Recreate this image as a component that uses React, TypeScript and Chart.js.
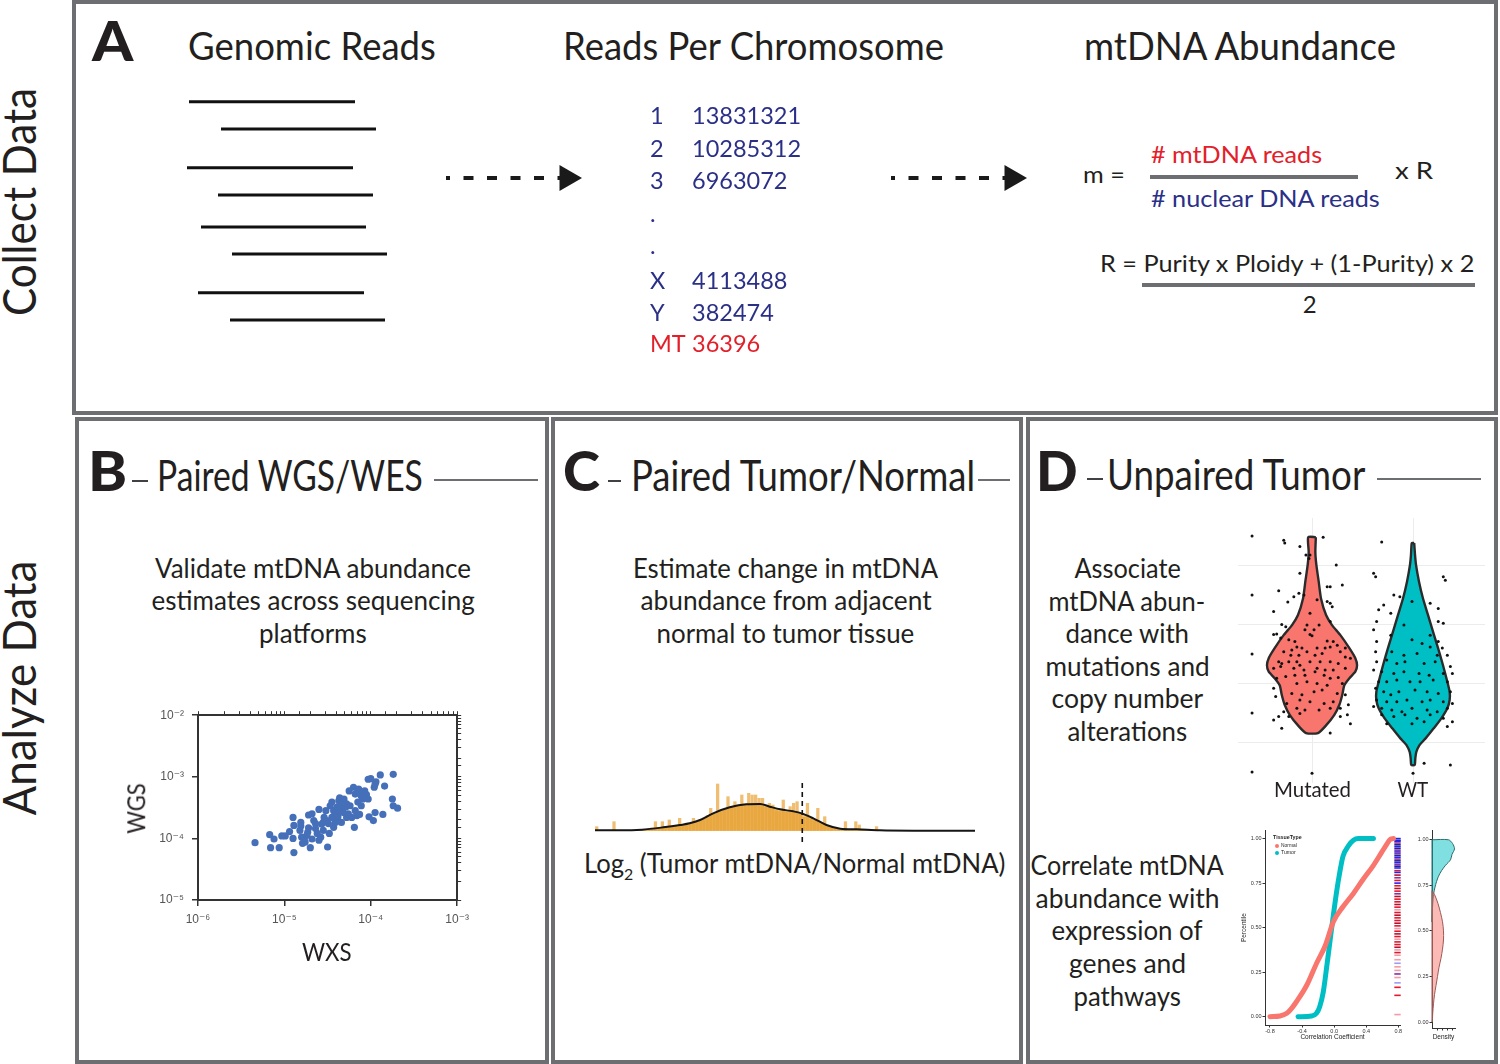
import React, { useEffect, useLayoutEffect, useRef } from 'react';
import { Chart, registerables } from 'chart.js';

Chart.register(...registerables);

// ================= DATA =================
// Panel A — schematic reads (arbitrary genome coordinates, bp) and flow arrows
const readStartBp = [90, 410, 70, 380, 210, 520, 180, 500];
const readEndBp = [1750, 1960, 1730, 1930, 1860, 2070, 1840, 2050];
const readDepth = [11.7, 39, 77.7, 105, 137, 164, 202.7, 230];
const flowStart = [2660, 7110];
const flowEnd = [3870, 8320];
const flowDepth = 88;

const chromosomes = ['1', '2', '3', '.', '.', 'X', 'Y', 'MT'];
const chromosomeReads = ['13831321', '10285312', '6963072', '', '', '4113488', '382474', '36396'];

// Panel B — paired WGS / WXS mtDNA abundance (log10 values)
const wxsLog10 = [
  -5.34, -5.17, -5.12, -5.16, -5.06, -5.03, -4.99, -4.94, -4.90, -4.89, -4.90, -4.81, -4.81, -4.82, -4.80, -4.79, -4.77,
  -4.73, -4.72, -4.70, -4.72, -4.68, -4.66, -4.64, -4.62, -4.60, -4.58, -4.60, -4.57, -4.55, -4.54, -4.52, -4.51, -4.50,
  -4.48, -4.47, -4.45, -4.43, -4.42, -4.40, -4.39, -4.37, -4.36, -4.34, -4.33, -4.32, -4.31, -4.29, -4.28, -4.26, -4.34,
  -4.38, -4.31, -4.24, -4.22, -4.20, -4.18, -4.19, -4.16, -4.18, -4.15, -4.14, -4.11, -4.10, -4.09, -4.07, -4.05, -4.03,
  -4.11, -4.15, -4.13, -4.02, -4.03, -3.97, -3.96, -3.95, -3.94, -3.89, -3.95, -3.84, -3.86, -3.74, -3.75, -3.74, -3.69,
  -4.76, -4.74, -4.68, -4.64, -4.55, -4.49, -4.45, -4.43, -4.41, -4.39, -4.37, -4.36, -4.30, -4.28, -4.25, -4.00, -4.89,
];
const wgsLog10 = [
  -4.07, -3.94, -4.01, -4.15, -4.15, -3.96, -3.96, -3.89, -4.00, -4.23, -3.66, -3.74, -3.80, -3.87, -3.98, -4.08, -4.01,
  -3.90, -3.83, -4.15, -3.62, -3.60, -3.71, -3.84, -3.92, -4.03, -3.98, -3.53, -3.77, -3.74, -3.66, -3.55, -3.71, -4.14,
  -3.92, -3.47, -3.41, -3.55, -3.63, -3.68, -3.49, -3.39, -3.34, -3.44, -3.52, -3.58, -3.36, -3.49, -3.66, -3.60, -3.74,
  -3.65, -3.43, -3.47, -3.66, -3.17, -3.28, -3.82, -3.63, -3.55, -3.23, -3.20, -3.31, -3.25, -3.36, -3.23, -3.29, -3.36,
  -3.47, -3.41, -3.61, -3.65, -3.04, -3.71, -3.17, -3.12, -3.08, -2.97, -3.58, -3.15, -3.61, -2.96, -3.36, -3.47, -3.51,
  -4.06, -3.95, -4.01, -3.76, -3.87, -3.76, -3.66, -3.82, -3.74, -3.58, -3.52, -3.47, -3.44, -3.44, -3.23, -3.03, -3.79,
];
const wxsTicks = [1e-6, 1e-5, 1e-4, 1e-3];
const wgsTicks = [1e-5, 1e-4, 1e-3, 1e-2];

// Panel C — log2(tumor/normal) histogram and density
const ratioBinStart = -3;
const ratioBinWidth = 0.05;
const ratioCounts = [
  1.2, 0, 0, 0, 0, 2.7, 0, 0, 0, 0, 0, 0, 0.2, 0.3, 0.5, 0.6, 0.8, 2.7, 1.0, 2.7, 1.2, 3.2, 1.5, 1.6, 3.7, 1.8, 1.9, 2.2,
  3.7, 2.8, 3.2, 3.8, 4.5, 6.7, 5.0, 14, 6.0, 6.5, 10.2, 7.0, 8.7, 7.5, 10.7, 8.0, 11.2, 10.7, 10.7, 9.7, 9.7, 7.0, 8.2,
  7.7, 6.0, 5.7, 9.2, 5.5, 7.2, 8.2, 8.7, 5.0, 4.0, 8.2, 3.5, 3.0, 6.7, 2.2, 4.2, 1.2, 0.8, 0.6, 0.5, 0.4, 2.7, 0.3, 0.3,
  2.7, 1.7, 0.3, 0.2, 0.2, 0, 1.2,
];
const densityX = [-3.0, -2.64, -2.32, -2.01, -1.77, -1.63, -1.48, -1.29, -1.05, -0.81, -0.61, -0.47, -0.32, -0.13, -0.01, 0.16, 0.35, 0.55, 0.79, 1.12, 1.61, 2.5];
const densityY = [0.1, 0.1, 0.3, 1.0, 1.7, 2.2, 3.2, 5.2, 7.0, 7.9, 8.0, 7.2, 6.4, 5.8, 5.2, 3.7, 1.7, 0.6, 0.4, 0.1, 0, 0];
const noChange = 0;

// Panel D — violins (Mutated vs WT)
const groups = ['Mutated', 'WT'];
const mutatedLevels = [3.98, 3.73, 3.51, 3.23, 2.94, 2.66, 2.49, 2.32, 2.10, 1.93, 1.81, 1.70, 1.59, 1.47, 1.31, 1.14, 0.97, 0.79, 0.66];
const mutatedHalfWidth = [0.038, 0.033, 0.043, 0.066, 0.089, 0.139, 0.198, 0.281, 0.370, 0.429, 0.446, 0.429, 0.370, 0.320, 0.300, 0.271, 0.221, 0.139, 0.059];
const wtLevels = [3.88, 3.68, 3.51, 3.23, 2.94, 2.66, 2.38, 2.10, 1.81, 1.53, 1.36, 1.22, 1.08, 0.91, 0.74, 0.57, 0.46, 0.34, 0.23, 0.12];
const wtHalfWidth = [0.012, 0.020, 0.030, 0.059, 0.099, 0.149, 0.198, 0.248, 0.297, 0.340, 0.363, 0.363, 0.340, 0.281, 0.205, 0.125, 0.066, 0.033, 0.023, 0.017];
const mutatedX = [
  0.72, 0.73, 0.88, 1.11, 0.94, 0.97, 0.98, 1.24, 0.88, 1.18, 1.15, 1.30, 0.67, 0.92, 0.87, 0.82, 0.76, 1.05, 1.15, 1.18,
  1.20, 0.62, 0.98, 0.70, 0.74, 1.18, 0.95, 1.07, 1.02, 0.93, 0.62, 0.65, 0.69, 1.00, 0.98, 0.77, 0.83, 1.15, 1.21, 1.25,
  1.33, 0.80, 0.85, 0.90, 1.05, 1.13, 1.18, 0.72, 0.79, 0.87, 0.95, 1.03, 1.10, 1.28, 1.33, 1.38, 0.67, 0.70, 0.77, 0.85,
  0.88, 0.98, 1.08, 1.18, 1.26, 0.62, 0.69, 0.82, 0.92, 1.05, 1.13, 1.21, 1.33, 0.65, 0.74, 0.83, 0.93, 1.03, 1.12, 1.18,
  1.26, 0.62, 0.85, 0.95, 1.05, 1.15, 1.30, 0.64, 0.80, 0.90, 1.02, 1.10, 1.25, 1.33, 0.75, 0.88, 0.98, 1.12, 1.21, 1.36,
  0.72, 0.85, 0.93, 1.07, 1.18, 1.28, 1.35, 0.62, 0.67, 0.77, 0.88, 1.28, 1.38, 0.70, 1.18,
];
const mutatedY = [
  3.93, 3.88, 3.82, 3.98, 3.68, 3.62, 3.68, 3.51, 3.37, 3.14, 3.14, 3.17, 3.07, 3.00, 3.03, 2.97, 2.88, 2.92, 2.89, 2.86,
  2.80, 2.72, 2.69, 2.50, 2.46, 2.55, 2.49, 2.49, 2.41, 2.41, 2.33, 2.34, 2.27, 2.31, 2.33, 2.24, 2.21, 2.22, 2.21, 2.15,
  2.10, 2.07, 2.12, 2.10, 2.10, 2.10, 2.12, 2.04, 1.98, 1.98, 2.04, 1.98, 2.01, 2.04, 1.95, 1.93, 1.87, 1.84, 1.87, 1.87,
  1.81, 1.87, 1.87, 1.87, 1.84, 1.76, 1.79, 1.76, 1.73, 1.76, 1.73, 1.73, 1.76, 1.59, 1.62, 1.64, 1.64, 1.70, 1.64, 1.59,
  1.60, 1.42, 1.50, 1.53, 1.50, 1.47, 1.50, 1.28, 1.33, 1.31, 1.36, 1.39, 1.33, 1.31, 1.16, 1.22, 1.19, 1.16, 1.19, 1.14,
  1.02, 1.08, 1.05, 1.05, 1.08, 1.08, 0.97, 0.88, 0.94, 0.94, 0.99, 0.94, 0.82, 0.74, 0.66,
];
const wtX = [
  1.69, 1.61, 1.63, 2.30, 2.32, 1.81, 1.87, 1.71, 1.66, 1.99, 2.17, 2.25, 1.78, 1.64, 2.30, 2.25, 1.91, 1.61, 1.78, 2.17,
  2.25, 1.64, 1.99, 2.09, 2.17, 2.29, 1.63, 1.79, 1.91, 2.04, 2.24, 2.34, 1.64, 1.74, 1.84, 1.92, 2.11, 2.22, 2.37, 1.61,
  1.69, 1.81, 1.91, 2.06, 2.16, 2.30, 2.39, 1.66, 1.74, 1.84, 1.97, 2.07, 2.20, 2.34, 1.63, 1.71, 1.78, 1.86, 2.02, 2.14,
  2.25, 2.37, 1.64, 1.74, 1.84, 1.94, 2.09, 2.17, 2.30, 2.39, 1.61, 1.69, 1.79, 1.89, 1.99, 2.14, 2.24, 2.34, 1.69, 1.81,
  1.92, 2.04, 2.17, 2.30, 2.39, 1.74, 1.99, 2.11, 2.34, 2.11, 2.37,
];
const wtY = [
  3.90, 3.37, 3.31, 3.31, 3.25, 3.00, 2.97, 2.83, 2.75, 2.89, 2.86, 2.77, 2.69, 2.55, 2.52, 2.55, 2.49, 2.41, 2.32, 2.32,
  2.21, 2.21, 2.24, 2.18, 2.12, 2.10, 2.04, 2.04, 1.98, 2.01, 1.98, 1.98, 1.87, 1.90, 1.84, 1.87, 1.84, 1.87, 1.79, 1.73,
  1.70, 1.67, 1.70, 1.67, 1.64, 1.67, 1.67, 1.53, 1.53, 1.56, 1.53, 1.53, 1.56, 1.53, 1.42, 1.36, 1.31, 1.36, 1.39, 1.36,
  1.33, 1.36, 1.22, 1.19, 1.19, 1.22, 1.19, 1.22, 1.19, 1.16, 1.11, 1.08, 1.05, 1.02, 1.08, 1.05, 1.02, 1.08, 0.97, 0.94,
  0.97, 0.91, 0.97, 0.91, 0.85, 0.82, 0.82, 0.85, 0.77, 0.15, 0.12,
];
const violinTickLevels = [0, 1, 2, 3, 4];

// Panel D — correlation percentile curves
const normalCorr = [-0.80, -0.675, -0.59, -0.53, -0.47, -0.34, -0.22, -0.11, -0.01, 0.11, 0.24, 0.36, 0.49, 0.59, 0.655, 0.70, 0.74];
const normalPct = [0, 0.004, 0.019, 0.047, 0.084, 0.178, 0.299, 0.40, 0.533, 0.617, 0.692, 0.770, 0.850, 0.921, 0.968, 0.996, 1.0];
const tumorCorr = [-0.45, -0.28, -0.22, -0.18, -0.135, -0.09, -0.05, -0.01, 0.03, 0.07, 0.11, 0.18, 0.24, 0.30, 0.49];
const tumorPct = [0, 0.004, 0.019, 0.056, 0.14, 0.29, 0.43, 0.57, 0.70, 0.81, 0.90, 0.96, 0.99, 1.0, 1.0];
const rugCorr = 0.79;
const rugPct = [
  1.00, 0.99, 0.985, 0.975, 0.965, 0.955, 0.945, 0.935, 0.925, 0.915, 0.905, 0.895, 0.885, 0.875, 0.865, 0.855, 0.845, 0.835,
  0.82, 0.81, 0.795, 0.78, 0.765, 0.75, 0.735, 0.72, 0.705, 0.69, 0.675,
  0.66, 0.645, 0.63, 0.615, 0.60, 0.585, 0.57, 0.555, 0.54, 0.525, 0.51, 0.495, 0.48, 0.465, 0.45, 0.435, 0.42, 0.405, 0.39, 0.375, 0.36, 0.345,
  0.32, 0.30, 0.28, 0.26, 0.24, 0.22,
  0.19, 0.165, 0.12, 0.012,
];
const rugTone = [
  0, 1, 0, 2, 1, 0, 1, 2, 0, 2, 1, 0, 2, 1, 0, 2, 1, 0,
  3, 0, 4, 2, 3, 0, 3, 4, 3, 2, 4,
  3, 3, 4, 3, 5, 3, 4, 3, 3, 4, 3, 5, 3, 4, 3, 5, 3, 3, 4, 5, 3, 5,
  5, 6, 5, 5, 2, 5,
  6, 3, 3, 5,
];
const rugPalette = ['#2323f0', '#2a1f8f', '#8b2f9e', '#e5172f', '#b5122e', '#f49aa8', '#9b9bf2'];
const pctTicks = [0, 0.25, 0.5, 0.75, 1];
const corrTicks = [-0.8, -0.4, 0, 0.4, 0.8];

// Panel D — marginal densities of percentile
const tumorDensPct = [1.0, 1.0, 0.98, 0.95, 0.92, 0.89, 0.86, 0.83, 0.80, 0.77, 0.74, 0.70, 0.65, 0.60, 0.55];
const tumorDens = [0, 3.3, 4.1, 4.5, 4.0, 3.7, 2.7, 1.9, 1.3, 0.9, 0.6, 0.3, 0.15, 0.05, 0];
const normalDensPct = [0.72, 0.70, 0.65, 0.60, 0.55, 0.50, 0.45, 0.40, 0.35, 0.30, 0.25, 0.20, 0.15, 0.10, 0.05, 0.0, 0.0];
const normalDens = [0, 0.5, 1.2, 1.7, 2.1, 2.3, 2.3, 2.1, 1.8, 1.4, 1.1, 0.8, 0.5, 0.3, 0.15, 0.05, 0];
const densTicks = [1, 2, 3, 4];

// ================= STYLE =================
const INK = '#231f20';
const NAVY = '#2b3087';
const RED = '#e3202a';
const FRAME = '#6d6e71';
const FONT = 'Lato, "Open Sans", "Noto Sans", sans-serif';
const SMALL = '"Liberation Sans", Arial, "DejaVu Sans", sans-serif';
const ORANGE = 'rgba(230,155,38,0.65)';
const SALMON = '#f8766d';
const TEAL = '#00bfc4';

const SUP: Record<string, string> = { '-': '\u207b', '0': '\u2070', '1': '\u00b9', '2': '\u00b2', '3': '\u00b3', '4': '\u2074', '5': '\u2075', '6': '\u2076', '7': '\u2077', '8': '\u2078', '9': '\u2079' };
const pow10Label = (v: number) => '10' + String(Math.round(Math.log10(v))).split('').map((c) => SUP[c] || c).join('');

const fixW = (w: number) => (s: any) => { s.width = w; };
const fixH = (h: number) => (s: any) => { s.height = h; };
const setTicks = (vals: number[]) => (s: any) => { s.ticks = vals.map((value) => ({ value })); };

function opts(scales: any, padding: any = 0) {
  return {
    animation: false,
    responsive: false,
    events: [],
    layout: { padding, autoPadding: false },
    plugins: { legend: { display: false }, tooltip: { enabled: false } },
    scales,
  };
}

const hidden = (min: number, max: number, reverse = false) => ({ type: 'linear', display: false, min, max, reverse, offset: false });

// ================= CHART CONFIGS =================
const readsConfig = () => ({
  type: 'scatter',
  data: {
    datasets: [
      ...readStartBp.map((s, i) => ({
        type: 'line',
        data: [{ x: s, y: readDepth[i] }, { x: readEndBp[i], y: readDepth[i] }],
        borderColor: '#111',
        borderWidth: 3,
        pointRadius: 0,
        borderCapStyle: 'butt',
      })),
      ...flowStart.map((s, i) => ({
        type: 'line',
        data: [{ x: s, y: flowDepth }, { x: flowEnd[i], y: flowDepth }],
        borderColor: '#1a1a1a',
        borderWidth: 4,
        borderDash: [10, 13.5],
        borderDashOffset: 6,
        borderCapStyle: 'butt',
        pointRadius: [0, 15],
        pointStyle: 'triangle',
        pointRotation: 90,
        pointBackgroundColor: '#1a1a1a',
        pointBorderWidth: 0,
        clip: false,
      })),
    ],
  },
  options: opts({ x: hidden(0, 8600), y: hidden(0, 250, true) }),
});

const AX = '#333';
const scatterTicks = { callback: (v: number) => pow10Label(v), color: '#555', font: { family: SMALL, size: 12 }, padding: 6, maxRotation: 0, autoSkip: false };
const scatterConfig = () => ({
  type: 'scatter',
  data: {
    datasets: [
      {
        data: wxsLog10.map((v, i) => ({ x: Math.pow(10, v), y: Math.pow(10, wgsLog10[i]) })),
        backgroundColor: '#4570b9',
        borderWidth: 0,
        pointRadius: 3.6,
      },
    ],
  },
  options: opts({
    x: {
      type: 'logarithmic', position: 'bottom', min: 1e-6, max: 1e-3,
      afterFit: fixH(40), afterBuildTicks: setTicks(wxsTicks),
      border: { color: AX, width: 2 },
      grid: { drawOnChartArea: false, color: AX, tickLength: 6, lineWidth: 1.5 },
      ticks: scatterTicks,
    },
    x2: {
      type: 'logarithmic', position: 'top', min: 1e-6, max: 1e-3, afterFit: fixH(14),
      border: { color: AX, width: 2 },
      grid: { drawOnChartArea: false, color: AX, tickLength: 4, lineWidth: 1 },
      ticks: { display: false },
    },
    y: {
      type: 'logarithmic', position: 'left', min: 1e-5, max: 1e-2,
      afterFit: fixW(58), afterBuildTicks: setTicks(wgsTicks),
      border: { color: AX, width: 2 },
      grid: { drawOnChartArea: false, color: AX, tickLength: 6, lineWidth: 1.5 },
      ticks: { ...scatterTicks, padding: 8 },
    },
    y2: {
      type: 'logarithmic', position: 'right', min: 1e-5, max: 1e-2, afterFit: fixW(15),
      border: { color: AX, width: 2 },
      grid: { drawOnChartArea: false, color: AX, tickLength: 4, lineWidth: 1 },
      ticks: { display: false },
    },
  }),
});

const histConfig = () => ({
  type: 'bar',
  data: {
    datasets: [
      {
        type: 'line',
        data: densityX.map((x, i) => ({ x, y: densityY[i] })),
        borderColor: '#151515',
        borderWidth: 2,
        pointRadius: 0,
        cubicInterpolationMode: 'monotone',
        fill: 'origin',
        backgroundColor: ORANGE,
        order: 0,
      },
      {
        type: 'bar',
        data: ratioCounts.map((c, i) => ({ x: ratioBinStart + (i + 0.5) * ratioBinWidth, y: c })),
        backgroundColor: ORANGE,
        barThickness: 2.6,
        order: 1,
      },
      {
        type: 'line',
        data: [{ x: noChange, y: -3.4 }, { x: noChange, y: 14.3 }],
        borderColor: '#111',
        borderWidth: 1.6,
        borderDash: [5, 4],
        pointRadius: 0,
        order: -1,
      },
    ],
  },
  options: opts({ x: hidden(-3, 2.5), y: hidden(-3.4, 18.2) }),
});

function violinPath(center: number, levels: number[], half: number[]) {
  const right = levels.map((y, i) => ({ x: center + half[i], y }));
  const left = levels.map((y, i) => ({ x: center - half[i], y })).reverse();
  return [...right, ...left, right[0]];
}

const GRID = '#ececec';
const violinConfig = () => ({
  type: 'scatter',
  data: {
    datasets: [
      { type: 'line', data: violinPath(1, mutatedLevels, mutatedHalfWidth), fill: 'shape', backgroundColor: SALMON, borderColor: '#2b2b2b', borderWidth: 2.4, pointRadius: 0, tension: 0.2, order: 2 },
      { type: 'line', data: violinPath(2, wtLevels, wtHalfWidth), fill: 'shape', backgroundColor: TEAL, borderColor: '#2b2b2b', borderWidth: 2.4, pointRadius: 0, tension: 0.2, order: 2 },
      { data: mutatedX.map((x, i) => ({ x, y: mutatedY[i] })), backgroundColor: '#111', borderWidth: 0, pointRadius: 1.5, order: 0 },
      { data: wtX.map((x, i) => ({ x, y: wtY[i] })), backgroundColor: '#111', borderWidth: 0, pointRadius: 1.5, order: 0 },
      { data: violinTickLevels.map((y) => ({ x: 0.406, y })), backgroundColor: '#111', borderWidth: 0, pointRadius: 1.5, order: 0 },
      { data: groups.map((g, i) => ({ x: i + 1, y: -0.02 })), backgroundColor: '#111', borderWidth: 0, pointRadius: 1.5, order: 0 },
    ],
  },
  options: opts({
    x: { type: 'linear', min: 0.267, max: 2.713, afterFit: fixH(0), afterBuildTicks: setTicks([1, 2]), border: { display: false }, grid: { color: GRID, drawTicks: false, lineWidth: 1 }, ticks: { display: false } },
    y: { type: 'linear', min: -0.186, max: 4.305, afterFit: fixW(0), afterBuildTicks: setTicks([0.5, 1.5, 2.5, 3.5]), border: { display: false }, grid: { color: GRID, drawTicks: false, lineWidth: 1 }, ticks: { display: false } },
  }),
});

const tinyTick = { font: { family: SMALL, size: 5.5 }, color: '#333', padding: 1, autoSkip: false, maxRotation: 0 };
const tinyTitle = (text: string) => ({ display: true, text, font: { family: SMALL, size: 6.5 }, color: '#222', padding: { top: 0, bottom: 1 } });

const ecdfConfig = () => ({
  type: 'scatter',
  data: {
    datasets: [
      { type: 'line', data: normalCorr.map((x, i) => ({ x, y: normalPct[i] })), borderColor: SALMON, borderWidth: 5, pointRadius: 0, cubicInterpolationMode: 'monotone', borderCapStyle: 'round', clip: false },
      { type: 'line', data: tumorCorr.map((x, i) => ({ x, y: tumorPct[i] })), borderColor: TEAL, borderWidth: 5, pointRadius: 0, cubicInterpolationMode: 'monotone', borderCapStyle: 'round', clip: false },
      { data: rugPct.map((y) => ({ x: rugCorr, y })), pointStyle: 'line', pointRadius: 3.2, pointBorderWidth: 1.6, pointBorderColor: rugTone.map((t) => rugPalette[t]), pointBackgroundColor: 'transparent', clip: false },
    ],
  },
  options: opts(
    {
      x: {
        type: 'linear', min: -0.862, max: 0.821, afterFit: fixH(17), afterBuildTicks: setTicks(corrTicks),
        border: { color: AX, width: 1 }, grid: { drawOnChartArea: false, color: AX, tickLength: 2.5 },
        ticks: { ...tinyTick, callback: (v: number) => Number(v).toFixed(1) },
        title: tinyTitle('Correlation Coefficient'),
      },
      y: {
        type: 'linear', min: -0.0465, max: 1.0465, afterFit: fixW(25), afterBuildTicks: setTicks(pctTicks),
        border: { color: AX, width: 1 }, grid: { drawOnChartArea: false, color: AX, tickLength: 2.5 },
        ticks: { ...tinyTick, callback: (v: number) => Number(v).toFixed(2) },
        title: tinyTitle('Percentile'),
      },
    },
    { top: 4, right: 10, left: 0, bottom: 0 }
  ),
});

const densConfig = () => ({
  type: 'scatter',
  data: {
    datasets: [
      { type: 'line', data: [...normalDens.map((x, i) => ({ x, y: normalDensPct[i] })), { x: normalDens[0], y: normalDensPct[0] }], fill: 'shape', backgroundColor: 'rgba(248,118,109,0.5)', borderColor: '#9a5a55', borderWidth: 1, pointRadius: 0, tension: 0.3, clip: false },
      { type: 'line', data: [...tumorDens.map((x, i) => ({ x, y: tumorDensPct[i] })), { x: tumorDens[0], y: tumorDensPct[0] }], fill: 'shape', backgroundColor: 'rgba(0,191,196,0.5)', borderColor: '#2c6b6b', borderWidth: 1, pointRadius: 0, tension: 0.3, clip: false },
    ],
  },
  options: opts(
    {
      x: {
        type: 'linear', min: 0, max: 4.6, afterFit: fixH(14), afterBuildTicks: setTicks(densTicks),
        border: { color: AX, width: 1 }, grid: { drawOnChartArea: false, color: AX, tickLength: 2.5 },
        ticks: { display: false },
        title: tinyTitle('Density'),
      },
      y: {
        type: 'linear', min: -0.0329, max: 1.052, afterFit: fixW(22), afterBuildTicks: setTicks(pctTicks),
        border: { color: AX, width: 1 }, grid: { drawOnChartArea: false, color: AX, tickLength: 2.5 },
        ticks: { ...tinyTick, callback: (v: number) => Number(v).toFixed(2) },
      },
    },
    { top: 4, right: 7, left: 0, bottom: 0 }
  ),
});

// ================= COMPONENTS =================
function ChartCanvas({ left, top, width, height, config }: { left: number; top: number; width: number; height: number; config: () => any }) {
  const ref = useRef<HTMLCanvasElement>(null);
  useEffect(() => {
    const chart = new Chart(ref.current as HTMLCanvasElement, config());
    return () => chart.destroy();
  }, []);
  return <canvas ref={ref} width={width} height={height} style={{ position: 'absolute', left, top, width, height }} />;
}

type TxtProps = {
  x: number; y: number; size: number; w?: number; color?: string; weight?: number;
  align?: 'left' | 'center'; rot?: boolean; family?: string; children: React.ReactNode;
};
function Txt({ x, y, size, w, color = INK, weight = 400, align = 'left', rot = false, family = FONT, children }: TxtProps) {
  const centered = rot || align === 'center';
  return (
    <div
      data-fit={w ? String(w) : ''}
      data-x={String(x)}
      data-center={centered ? '1' : ''}
      data-rot={rot ? '1' : ''}
      style={{
        position: 'absolute', left: x, top: rot ? y - size / 2 : y - 0.887 * size, whiteSpace: 'nowrap',
        fontFamily: family, fontSize: size, fontWeight: weight, lineHeight: `${size}px`, color,
        transformOrigin: centered ? '50% 50%' : '0 50%',
      }}
    >
      {children}
    </div>
  );
}

function Rule({ x1, x2, y, t = 2, color = FRAME }: { x1: number; x2: number; y: number; t?: number; color?: string }) {
  return <div style={{ position: 'absolute', left: x1, top: y - t / 2, width: x2 - x1, height: t, background: color }} />;
}

function Frame({ l, t, r, b }: { l: number; t: number; r: number; b: number }) {
  return <div style={{ position: 'absolute', left: l, top: t, width: r - l, height: b - t, border: `4px solid ${FRAME}`, boxSizing: 'border-box' }} />;
}

function Dot({ x, y, r, color }: { x: number; y: number; r: number; color: string }) {
  return <div style={{ position: 'absolute', left: x - r, top: y - r, width: 2 * r, height: 2 * r, borderRadius: '50%', background: color }} />;
}

function fitAll() {
  document.querySelectorAll<HTMLElement>('[data-x]').forEach((el) => {
    const w = parseFloat(el.dataset.fit || '');
    const natural = el.offsetWidth;
    const s = w > 0 && natural > 0 ? w / natural : 1;
    const x = parseFloat(el.dataset.x || '0');
    const centered = el.dataset.center === '1';
    const rot = el.dataset.rot === '1';
    if (centered) el.style.left = `${x - natural / 2}px`;
    el.style.transform = `${rot ? 'rotate(-90deg) ' : ''}scaleX(${s})`;
  });
}

const rowBaseline = [125, 158.3, 190, 223, 255, 290, 321.7, 353.3];

export default function App() {
  useLayoutEffect(() => {
    fitAll();
    const f: any = (document as any).fonts;
    if (f && f.ready) f.ready.then(fitAll);
  }, []);

  const descB: [string, number][] = [['Validate mtDNA abundance', 316], ['estimates across sequencing', 323], ['platforms', 108]];
  const descC: [string, number][] = [['Estimate change in mtDNA', 305], ['abundance from adjacent', 291], ['normal to tumor tissue', 258]];
  const descD1: [string, number][] = [['Associate', 106], ['mtDNA abun-', 157], ['dance with', 124], ['mutations and', 164], ['copy number', 152], ['alterations', 120]];
  const descD2: [string, number][] = [['Correlate mtDNA', 193], ['abundance with', 184], ['expression of', 151], ['genes and', 117], ['pathways', 107]];

  return (
    <div style={{ position: 'absolute', left: 0, top: 0, width: 1500, height: 1064, background: '#fff', overflow: 'hidden' }}>
      {/* frames */}
      <Frame l={72} t={0} r={1498} b={415} />
      <Frame l={75} t={417} r={549} b={1064} />
      <Frame l={551} t={417} r={1023} b={1064} />
      <Frame l={1026} t={417} r={1498} b={1064} />

      {/* side labels */}
      <Txt x={19} y={202} w={228} size={46} rot>Collect Data</Txt>
      <Txt x={19} y={688} w={255} size={46} rot>Analyze Data</Txt>

      {/* Panel A */}
      <Txt x={92} y={62} w={41} size={56} weight={900}>A</Txt>
      <Txt x={188} y={60} w={248} size={38}>Genomic Reads</Txt>
      <Txt x={563} y={60} w={381} size={38}>Reads Per Chromosome</Txt>
      <Txt x={1084} y={60} w={312} size={38}>mtDNA Abundance</Txt>
      <ChartCanvas left={180} top={90} width={860} height={250} config={readsConfig} />
      {chromosomes.map((c, i) => (
        <React.Fragment key={i}>
          <Txt x={650} y={rowBaseline[i]} size={23.5} color={c === 'MT' ? RED : NAVY}>{c}</Txt>
          {chromosomeReads[i] ? (
            <Txt x={692} y={rowBaseline[i]} size={23.5} color={c === 'MT' ? RED : NAVY}>{chromosomeReads[i]}</Txt>
          ) : null}
        </React.Fragment>
      ))}
      <Txt x={1083} y={183.3} w={42} size={24}>m =</Txt>
      <Txt x={1151} y={163.3} w={171} size={24} color={RED}># mtDNA reads</Txt>
      <Rule x1={1150} x2={1358} y={177} t={4} />
      <Txt x={1151} y={207.3} w={229} size={24} color={NAVY}># nuclear DNA reads</Txt>
      <Txt x={1395} y={179.3} w={38} size={24}>x R</Txt>
      <Txt x={1100} y={272.7} w={374} size={24}>R = Purity x Ploidy + (1-Purity) x 2</Txt>
      <Rule x1={1142} x2={1475} y={285} t={4} />
      <Txt x={1309.7} y={313.3} size={24} align="center">2</Txt>

      {/* Panel B */}
      <Txt x={88} y={492} w={39} size={56} weight={900}>B</Txt>
      <Rule x1={132} x2={148} y={481} t={2} color="#414042" />
      <Txt x={157} y={491} w={266} size={43}>Paired WGS/WES</Txt>
      <Rule x1={434} x2={538} y={480} t={2} />
      {descB.map(([s, w], i) => (
        <Txt key={s} x={313} y={578 + i * 32.5} w={w} size={26} align="center">{s}</Txt>
      ))}
      <ChartCanvas left={140} top={700} width={335} height={240} config={scatterConfig} />
      <Txt x={327} y={961} w={50} size={25} align="center">WXS</Txt>
      <Txt x={135} y={808} w={50} size={25} rot>WGS</Txt>

      {/* Panel C */}
      <Txt x={563} y={492} w={37} size={56} weight={900}>C</Txt>
      <Rule x1={608} x2={621} y={481} t={2} color="#414042" />
      <Txt x={631} y={491} w={344} size={43}>Paired Tumor/Normal</Txt>
      <Rule x1={978} x2={1010} y={480} t={2} />
      {descC.map(([s, w], i) => (
        <Txt key={s} x={785.5} y={578 + i * 32.5} w={w} size={26} align="center">{s}</Txt>
      ))}
      <ChartCanvas left={595} top={770} width={380} height={72} config={histConfig} />
      <Txt x={584} y={873} w={421} size={26}>
        Log<span style={{ fontSize: '62%', position: 'relative', top: '0.45em', lineHeight: 1 }}>2</span> (Tumor mtDNA/Normal mtDNA)
      </Txt>

      {/* Panel D */}
      <Txt x={1036} y={492} w={42} size={56} weight={900}>D</Txt>
      <Rule x1={1087} x2={1103} y={479} t={2} color="#414042" />
      <Txt x={1107} y={490} w={258} size={43}>Unpaired Tumor</Txt>
      <Rule x1={1377} x2={1481} y={479} t={2} />
      {descD1.map(([s, w], i) => (
        <Txt key={s} x={1127} y={578 + i * 32.6} w={w} size={26} align="center">{s}</Txt>
      ))}
      {descD2.map(([s, w], i) => (
        <Txt key={s} x={1127} y={875 + i * 32.7} w={w} size={26} align="center">{s}</Txt>
      ))}
      <ChartCanvas left={1238} top={518} width={247} height={265} config={violinConfig} />
      <Txt x={1312.5} y={798} w={77} size={22} align="center">{groups[0]}</Txt>
      <Txt x={1412.5} y={798} w={31} size={22} align="center">{groups[1]}</Txt>

      <ChartCanvas left={1240} top={826} width={170} height={216} config={ecdfConfig} />
      <ChartCanvas left={1410} top={826} width={52} height={216} config={densConfig} />
      <Txt x={1273} y={840} w={29} size={5.5} weight={700} family={SMALL}>TissueType</Txt>
      <Dot x={1276.7} y={845.7} r={2.2} color={SALMON} />
      <Txt x={1281} y={847.7} w={16} size={5.5} family={SMALL}>Normal</Txt>
      <Dot x={1276.7} y={853.3} r={2.2} color={TEAL} />
      <Txt x={1281} y={855.3} w={15} size={5.5} family={SMALL}>Tumor</Txt>
    </div>
  );
}
